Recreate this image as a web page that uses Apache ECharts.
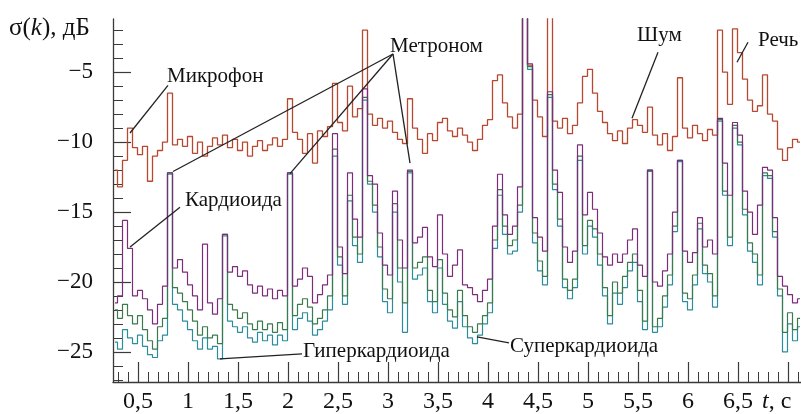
<!DOCTYPE html>
<html><head><meta charset="utf-8">
<script src="https://cdn.jsdelivr.net/npm/echarts@6/dist/echarts.min.js"></script>
<style>html,body{margin:0;padding:0;background:#fff}#c{width:801px;height:414px}</style>
</head><body><div id="c"></div>
<script>
// sampling grid (s)
const T0 = 0.27, DT = 0.05;
// Микрофон
const micV = [
-12.0,-13.2,-11.3,-9.0,-10.4,-10.9,-10.3,-12.8,-11.0,-10.6,
-10.0,-6.5,-10.2,-9.8,-10.3,-9.6,-10.8,-10.0,-11.0,-10.3,
-9.7,-10.2,-9.5,-10.4,-9.8,-10.6,-10.0,-11.0,-10.3,-9.9,
-10.6,-10.2,-9.7,-10.3,-9.8,-6.9,-9.3,-9.8,-10.8,-9.4,
-11.5,-9.2,-9.6,-8.9,-5.8,-8.6,-9.2,-6.0,-8.2,-7.6,
-2.0,-8.0,-8.8,-8.3,-9.0,-8.5,-9.3,-9.8,-10.1,-6.9,
-9.0,-9.8,-10.8,-9.4,-9.9,-8.6,-8.3,-9.2,-9.6,-9.0,
-9.5,-10.0,-10.6,-9.8,-8.8,-8.4,-5.6,-5.2,-7.2,-8.2,
-9.0,-8.0,-1.0,-4.5,-7.0,-8.2,-9.6,-1.0,-8.5,-9.0,
-8.3,-9.4,-8.8,-7.2,-5.3,-4.8,-6.5,-7.8,-8.6,-9.4,
-9.9,-9.2,-10.1,-9.0,-8.4,-8.8,-9.3,-7.5,-9.5,-10.2,
-9.4,-10.6,-9.6,-5.4,-9.0,-9.7,-8.8,-9.4,-9.9,-9.1,
-9.5,-2.0,-5.0,-7.3,-1.9,-3.6,-5.5,-7.0,-7.8,-7.4,
-5.2,-8.0,-8.5,-10.5,-11.3,-10.4,-9.8,-10.0];
// Кардиоида
const kardV = [
-21.5,-21.0,-15.6,-17.6,-21.0,-20.6,-21.2,-22.0,-23.0,-21.6,
-20.3,-12.2,-19.0,-18.4,-19.3,-20.2,-21.0,-22.0,-17.3,-21.5,
-22.3,-21.2,-16.6,-19.3,-18.9,-19.6,-19.2,-20.2,-20.8,-20.3,
-21.0,-20.5,-21.2,-20.6,-21.0,-12.2,-20.3,-19.8,-19.0,-19.6,
-21.5,-20.9,-20.2,-19.5,-9.4,-17.5,-19.4,-12.2,-15.5,-16.8,
-6.2,-12.4,-13.0,-16.5,-18.8,-19.5,-13.5,-17.0,-19.0,-12.0,
-17.2,-16.8,-16.1,-18.2,-18.9,-15.2,-18.0,-19.6,-18.8,-17.7,
-20.2,-20.4,-20.9,-21.4,-20.6,-19.8,-16.0,-12.3,-15.2,-16.6,
-16.0,-13.2,-1.0,-4.4,-15.4,-16.8,-17.8,-6.4,-12.0,-13.6,
-17.5,-18.6,-17.8,-10.2,-15.2,-13.6,-14.8,-16.5,-18.2,-18.8,
-18.0,-18.6,-18.0,-17.0,-16.2,-18.8,-19.6,-12.0,-20.0,-20.3,
-19.2,-18.0,-15.0,-11.3,-17.8,-18.6,-17.9,-15.4,-17.5,-17.0,
-18.0,-8.3,-11.5,-13.8,-8.6,-9.5,-13.5,-15.0,-16.6,-14.5,
-11.8,-12.0,-15.4,-19.6,-20.3,-20.9,-21.5,-21.2];
// Суперкардиоида
const superV = [
-22.0,-22.6,-21.6,-22.4,-23.0,-22.4,-23.4,-24.2,-24.8,-23.2,
-22.6,-12.2,-20.4,-20.8,-21.4,-22.0,-22.8,-23.8,-23.2,-24.0,
-23.8,-24.4,-16.6,-21.6,-22.0,-22.6,-22.2,-23.0,-23.4,-22.8,
-23.4,-23.0,-23.6,-22.9,-23.4,-12.2,-22.4,-21.6,-21.2,-21.8,
-23.0,-22.6,-22.0,-21.0,-10.5,-18.2,-21.0,-13.8,-16.8,-18.0,
-6.8,-12.8,-14.5,-17.5,-20.5,-21.2,-14.4,-19.0,-21.5,-12.1,
-19.0,-18.6,-18.2,-20.6,-21.4,-18.4,-20.8,-22.0,-22.5,-20.6,
-22.4,-23.2,-23.6,-23.0,-22.4,-21.5,-17.0,-13.4,-16.0,-17.4,
-17.0,-14.5,-1.0,-4.6,-16.5,-18.5,-19.6,-6.6,-13.0,-15.5,
-19.8,-20.6,-19.8,-11.0,-17.4,-15.6,-16.2,-18.0,-20.4,-22.4,
-20.0,-20.8,-19.6,-18.6,-18.0,-20.6,-22.8,-12.0,-23.2,-22.6,
-21.0,-19.5,-16.0,-11.3,-20.8,-21.2,-19.5,-15.8,-18.8,-19.4,
-21.0,-8.4,-13.5,-16.8,-8.8,-10.0,-14.8,-17.2,-18.0,-19.5,
-12.2,-12.4,-16.4,-20.5,-23.6,-22.2,-23.4,-22.6];
// Гиперкардиоида
const hyperV = [
-24.3,-24.8,-23.4,-24.0,-24.4,-23.8,-24.6,-25.2,-25.4,-24.2,
-23.8,-12.3,-21.6,-22.0,-22.8,-23.4,-24.2,-24.8,-24.0,-24.8,
-24.6,-25.5,-16.7,-22.8,-23.2,-23.6,-23.2,-24.0,-24.3,-23.6,
-24.2,-23.8,-24.5,-23.8,-24.2,-12.3,-23.4,-22.6,-22.2,-22.8,
-23.8,-23.4,-22.8,-22.0,-11.0,-18.8,-21.6,-14.2,-17.4,-18.6,
-7.0,-13.0,-15.0,-18.2,-21.4,-22.2,-15.0,-20.0,-23.6,-12.2,
-19.8,-19.5,-19.0,-21.4,-22.2,-19.0,-21.6,-22.8,-23.3,-21.4,
-23.2,-24.0,-24.4,-23.8,-23.0,-22.2,-17.6,-13.8,-16.6,-18.0,
-17.8,-15.0,-1.0,-4.8,-17.2,-19.2,-20.2,-6.8,-13.4,-16.0,
-20.4,-21.2,-20.4,-11.3,-18.0,-16.0,-16.8,-18.8,-21.0,-23.0,
-20.8,-21.6,-20.4,-19.2,-18.6,-21.4,-23.4,-12.1,-23.6,-23.2,
-21.8,-20.2,-16.4,-11.4,-21.4,-22.0,-20.2,-16.2,-19.4,-20.0,
-21.8,-8.5,-13.8,-17.4,-9.0,-10.2,-15.2,-17.8,-18.6,-20.2,
-12.4,-12.6,-16.8,-21.0,-25.0,-23.0,-24.2,-23.2];

const yMajor = [-25,-20,-15,-10,-5];
const yMinor = [-27,-26,-25,-24,-23,-22,-21,-20,-19,-18,-17,-16,-15,-14,-13,-12,-11,-10,-9,-8,-7,-6,-5,-4,-3,-2];
const xLabels = [0.5,1,1.5,2,2.5,3,3.5,4,4.5,5,5.5,6,6.5];
const xMajor = [0.5,1,1.5,2,2.5,3,3.5,4,4.5,5,5.5,6,6.5,7];

// annotations: [text, textT, textV, [[t1,v1,t2,v2],...]]
const notes = [
 ['Микрофон', 0.79, -5.3, [[0.80,-5.95,0.42,-9.35]]],
 ['Метроном', 3.02, -3.2, [[3.05,-3.7,0.85,-12.1],[3.05,-3.7,2.02,-12.25],[3.05,-3.7,3.22,-11.5]]],
 ['Кардиоида', 0.97, -14.15, [[0.92,-14.65,0.42,-17.5]]],
 ['Гиперкардиоида', 2.15, -25.0, [[2.14,-25.14,1.32,-25.5]]],
 ['Суперкардиоида', 4.22, -24.64, [[4.21,-24.36,3.89,-23.93]]],
 ['Шум', 5.49, -2.36, [[5.70,-3.57,5.44,-8.29]]],
 ['Речь', 6.70, -2.71, [[6.60,-2.86,6.49,-4.29]]]
];

const times = micV.map((_, k) => +(T0 + DT * k).toFixed(2));
const pairs = arr => arr.map((v, k) => [times[k], v]);
const xMinor = [];
for (let i = 3; i <= 71; i++) xMinor.push(+(i / 10).toFixed(1));

const FONT = 'Liberation Serif';
const chart = echarts.init(document.getElementById('c'), null, {renderer: 'canvas'});
const AX = '#3a3a3a';
const axLine = {show: true, lineStyle: {color: AX, width: 1.3}};
const mkSeries = (name, arr, color, w) => ({
  name, type: 'line', data: pairs(arr), step: 'middle', showSymbol: false,
  lineStyle: {color, width: w}, clip: true, animation: false, z: 2
});
chart.setOption({
  animation: false,
  backgroundColor: '#fff',
  grid: {left: 113, right: 0, top: 19, bottom: 32},
  xAxis: [
    {type: 'value', min: 0.25, max: 7.13, position: 'bottom', axisLine: axLine,
     splitLine: {show: false},
     axisTick: {show: true, inside: true, length: 20, customValues: xMajor, lineStyle: {color: AX, width: 1.2}},
     axisLabel: {show: true, customValues: xLabels, margin: 8, fontFamily: FONT, fontSize: 24, color: '#111',
       formatter: v => String(v).replace('.', ',')}},
    {type: 'value', min: 0.25, max: 7.13, position: 'bottom', axisLine: {show: false},
     splitLine: {show: false},
     axisTick: {show: true, inside: true, length: 10, customValues: xMinor, lineStyle: {color: AX, width: 1}},
     axisLabel: {show: false}}
  ],
  yAxis: [
    {type: 'value', min: -27.15, max: -1.2, position: 'left', axisLine: axLine,
     splitLine: {show: false},
     axisTick: {show: true, inside: true, length: 18, customValues: yMajor, lineStyle: {color: AX, width: 1.2}},
     axisLabel: {show: true, customValues: yMajor, margin: 20, fontFamily: FONT, fontSize: 23, color: '#111',
       formatter: v => (v < 0 ? '\u2212' : '') + Math.abs(v)}},
    {type: 'value', min: -27.15, max: -1.2, position: 'left', axisLine: {show: false},
     splitLine: {show: false},
     axisTick: {show: true, inside: true, length: 10, customValues: yMinor, lineStyle: {color: AX, width: 1}},
     axisLabel: {show: false}}
  ],
  series: [
    mkSeries('Микрофон', micV, '#b6482f', 1.3),
    mkSeries('Гиперкардиоида', hyperV, '#2b8c9c', 1.2),
    mkSeries('Суперкардиоида', superV, '#3b7a4c', 1.2),
    mkSeries('Кардиоида', kardV, '#7c2d79', 1.2)
  ]
});

const px = (t, v) => chart.convertToPixel({xAxisIndex: 0, yAxisIndex: 0}, [t, v]);
const g = [];
notes.forEach(([txt, tt, tv, lines]) => {
  lines.forEach(([a, b, c, d]) => {
    const p1 = px(a, b), p2 = px(c, d);
    g.push({type: 'line', shape: {x1: p1[0], y1: p1[1], x2: p2[0], y2: p2[1]},
      style: {stroke: '#222', lineWidth: 1.3}, z: 10});
  });
  const p = px(tt, tv);
  g.push({type: 'text', x: p[0], y: p[1], z: 11,
    style: {text: txt, font: '21px "Liberation Serif"', fill: '#111', textAlign: 'left', textVerticalAlign: 'middle'}});
});
g.push({type: 'text', x: 9, y: 28, z: 11, style: {
  text: '{n|σ(}{i|k}{n|), дБ}', textVerticalAlign: 'middle',
  rich: {n: {fontFamily: FONT, fontSize: 25, fill: '#111'}, i: {fontFamily: FONT, fontSize: 25, fontStyle: 'italic', fill: '#111'}}}});
g.push({type: 'text', x: 762, y: 402, z: 11, style: {
  text: '{i|t}{n|, с}', textVerticalAlign: 'middle',
  rich: {n: {fontFamily: FONT, fontSize: 24, fill: '#111'}, i: {fontFamily: FONT, fontSize: 24, fontStyle: 'italic', fill: '#111'}}}});
chart.setOption({graphic: g});
</script>
</body></html>
